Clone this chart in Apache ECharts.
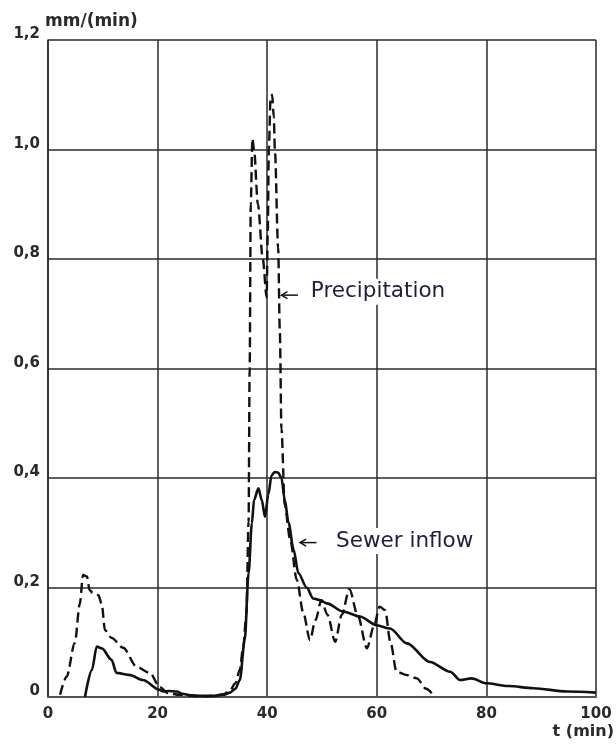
<!DOCTYPE html>
<html><head><meta charset="utf-8">
<script src="https://cdn.jsdelivr.net/npm/echarts@6/dist/echarts.min.js"></script>
<style>html,body{margin:0;padding:0;background:#fff}#c{width:616px;height:745px}</style>
</head><body><div id="c"></div>
<script>
// Precipitation (dashed) - time in minutes, intensity mm/min
const precipT = [2.2,3.4,4.9,5.8,6.4,7.1,7.6,8.2,9.2,9.8,10.4,11.6,13.7,16.2,18.6,20.4,21.9,24,26,28,30,32,33.2,34.2,35,35.6,36.2,36.6,36.8,37.0,37.3,37.6,38.3,39.2,39.9,40.1,40.3,40.6,40.9,41.2,41.4,42.0,42.3,42.6,43.2,44.2,45.4,46.6,47.8,48.8,49.9,51.0,52.4,53.6,55.0,56.5,58.2,59.5,60.5,61.5,62.5,63.6,65.5,67.3,69,70.6];
const precipV = [0.004,0.037,0.099,0.17,0.223,0.22,0.195,0.19,0.186,0.17,0.122,0.108,0.09,0.055,0.044,0.018,0.007,0.004,0.002,0.001,0.002,0.005,0.012,0.025,0.05,0.09,0.15,0.32,0.6,0.9,1.02,1.0,0.9,0.8,0.73,0.85,1.0,1.09,1.10,1.06,1.0,0.82,0.67,0.49,0.35,0.287,0.214,0.153,0.104,0.14,0.177,0.15,0.101,0.15,0.197,0.15,0.089,0.13,0.165,0.159,0.1,0.046,0.04,0.034,0.015,0];
// Sewer inflow (solid)
const sewerT = [6.75,8.0,8.9,9.8,11.6,12.5,15,17.3,20.4,21,22,23.5,24.5,26,28,30,32,33.2,34.2,35,35.9,36.6,37.2,37.6,38.4,39.0,39.6,40.2,40.8,41.4,42.0,42.6,43.2,43.9,44.8,45.7,47.2,48.4,49.6,50.9,53.9,56.9,60,62.4,65.5,69.7,73.4,75.2,77.3,80,84,88.6,94.7,100];
const sewerV = [0,0.049,0.092,0.089,0.068,0.044,0.04,0.031,0.013,0.01,0.011,0.01,0.006,0.003,0.002,0.002,0.004,0.008,0.015,0.031,0.104,0.226,0.317,0.36,0.381,0.36,0.329,0.37,0.405,0.411,0.41,0.40,0.36,0.318,0.27,0.226,0.2,0.18,0.177,0.171,0.156,0.147,0.131,0.125,0.098,0.064,0.046,0.031,0.034,0.025,0.02,0.016,0.01,0.008];
const xTicks = [0,20,40,60,80,100];
const yTicks = [0,0.2,0.4,0.6,0.8,1.0,1.2];
const labels = ['Precipitation','Sewer inflow'];
const labelAt = [[47.6,0.74],[52.2,0.285]];
const arrows = [[[45.6,0.734],[42.6,0.734]],[[49.0,0.282],[46.0,0.282]]];

const pair = (t,v)=>t.map((x,i)=>[x,v[i]]);
const chart = echarts.init(document.getElementById('c'));
const tickFont = {fontFamily:'DejaVu Sans',fontWeight:'bold',fontSize:15,color:'#2a2a2a'};
chart.setOption({
  animation:false,
  backgroundColor:'#fff',
  grid:{left:48,right:20,top:40,bottom:48},
  xAxis:{type:'value',min:xTicks[0],max:xTicks[xTicks.length-1],interval:20,
    axisLine:{lineStyle:{color:'#555',width:2}},axisTick:{show:false},
    axisLabel:Object.assign({margin:10,formatter:v=>String(v)},tickFont),
    splitLine:{lineStyle:{color:'#2a2a2a',width:1.5}}},
  yAxis:{type:'value',min:yTicks[0],max:yTicks[yTicks.length-1],interval:0.2,
    axisLine:{show:true,lineStyle:{color:'#2a2a2a',width:1.5}},axisTick:{show:false},
    axisLabel:Object.assign({margin:8,verticalAlign:'bottom',lineHeight:11,formatter:v=>v===0?'0':v.toFixed(1).replace('.',',')},tickFont),
    splitLine:{lineStyle:{color:'#2a2a2a',width:1.5}}},
  series:[
    {name:labels[0],type:'line',data:pair(precipT,precipV),showSymbol:false,smooth:0.3,smoothMonotone:'x',
      lineStyle:{color:'#111',width:2.4,type:[10,5]},z:3},
    {name:labels[1],type:'line',data:pair(sewerT,sewerV),showSymbol:false,smooth:0.3,smoothMonotone:'x',
      lineStyle:{color:'#111',width:2.6},z:4}
  ]
});
const g = [];
labels.forEach((s,i)=>{
  const p = chart.convertToPixel({gridIndex:0},labelAt[i]);
  g.push({type:'text',x:p[0],y:p[1],z:10,style:{text:s,fontFamily:'DejaVu Sans',fontSize:21.5,fill:'#1e1e40',
    align:'left',verticalAlign:'middle',backgroundColor:'#fff',padding:[2,2,2,2]}});
});
arrows.forEach(a=>{
  const p0 = chart.convertToPixel({gridIndex:0},a[0]);
  const p1 = chart.convertToPixel({gridIndex:0},a[1]);
  g.push({type:'line',z:10,shape:{x1:p0[0],y1:p0[1],x2:p1[0],y2:p1[1]},style:{stroke:'#111',lineWidth:1.5}});
  g.push({type:'polyline',z:10,shape:{points:[[p1[0]+6,p1[1]-3.5],[p1[0],p1[1]],[p1[0]+6,p1[1]+3.5]]},style:{stroke:'#111',lineWidth:1.5,fill:null}});
});
g.push({type:'text',x:45,y:22,style:{text:'mm/(min)',fontFamily:'DejaVu Sans',fontWeight:'bold',fontSize:17,fill:'#2a2a2a',align:'left',verticalAlign:'middle'}});
g.push({type:'text',x:614,y:732,style:{text:'t (min)',fontFamily:'DejaVu Sans',fontWeight:'bold',fontSize:16,fill:'#2a2a2a',align:'right',verticalAlign:'middle'}});
chart.setOption({graphic:g});
</script></body></html>
